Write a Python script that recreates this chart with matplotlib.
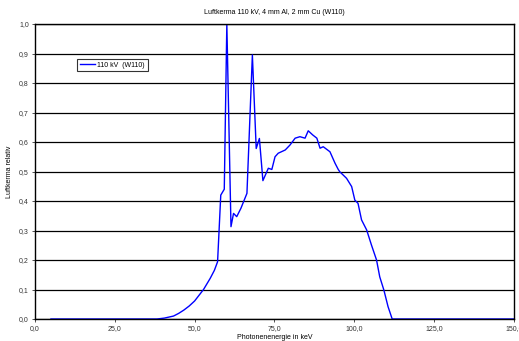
import matplotlib
matplotlib.use("Agg")
import matplotlib.pyplot as plt
from matplotlib.ticker import FuncFormatter, MultipleLocator

energy = [5.0, 10.0, 20.0, 30.0, 38.2, 40.5, 43.4, 45.0, 46.6, 48.3, 50.0, 52.8, 54.9, 56.2, 57.2, 58.2, 59.3, 60.1,
          61.4, 62.2, 63.2, 64.5, 66.4, 68.1, 69.3, 70.3, 71.4, 73.1, 74.2, 75.2, 76.2,
          78.4, 79.9, 81.5, 83.0, 84.6, 85.6, 87.0, 88.3, 89.3, 90.3, 92.4, 94.0, 95.0,
          95.5, 97.6, 99.2, 100.2, 101.2, 102.3, 103.9, 105.4, 107.0, 108.0, 109.3,
          110.6, 111.9, 120.0, 135.0, 150.0]
kerma = [0.0, 0.0, 0.0, 0.0, 0.0, 0.003, 0.01, 0.019, 0.03, 0.044, 0.061, 0.10, 0.138, 0.165, 0.194, 0.42, 0.44, 1.0,
         0.313, 0.358, 0.347, 0.375, 0.426, 0.895, 0.578, 0.612, 0.469, 0.511, 0.507, 0.55, 0.562,
         0.573, 0.59, 0.613, 0.618, 0.613, 0.638, 0.624, 0.613, 0.579, 0.584, 0.567, 0.528, 0.507,
         0.499, 0.477, 0.449, 0.403, 0.392, 0.336, 0.302, 0.251, 0.2, 0.143, 0.098,
         0.042, 0.0, 0.0, 0.0, 0.0]

title = "Luftkerma 110 kV, 4 mm Al, 2 mm Cu (W110)"
series_label = "110 kV  (W110)"
xlabel = "Photonenenergie in keV"
ylabel = "Luftkerma relativ"

plt.rcParams['font.family'] = ['Liberation Sans', 'DejaVu Sans']
fig = plt.figure(figsize=(5.19, 3.41), dpi=100)
ax = fig.add_axes([0.0674, 0.0645, 0.9226, 0.8651])
ax.plot(energy, kerma, color='#0000FF', lw=1.0, label=series_label)
ax.set_xlim(0, 150)
ax.set_ylim(0, 1.0)
ax.xaxis.set_major_locator(MultipleLocator(25))
ax.yaxis.set_major_locator(MultipleLocator(0.1))
fmt = FuncFormatter(lambda v, p: f"{v:.1f}".replace('.', ','))
ax.xaxis.set_major_formatter(fmt)
ax.yaxis.set_major_formatter(fmt)
ax.tick_params(labelsize=5, length=2.5, width=0.6, pad=2, colors='#333333')
ax.grid(axis='y', color='black', lw=0.9)
ax.set_axisbelow(True)
for s in ax.spines.values():
    s.set_color('black')
    s.set_linewidth(1.0)
ax.set_title(title, fontsize=5, pad=7)
ax.set_xlabel(xlabel, fontsize=5, labelpad=1.5)
ax.set_ylabel(ylabel, fontsize=5, labelpad=4)
leg = ax.legend(loc='upper left', bbox_to_anchor=(0.088, 0.882), fontsize=5,
                frameon=True, fancybox=False, handlelength=2.2, handletextpad=0.3,
                borderpad=0.4, borderaxespad=0)
leg.get_frame().set_edgecolor('black')
leg.get_frame().set_linewidth(0.8)
fig.savefig("out.png", dpi=100)
